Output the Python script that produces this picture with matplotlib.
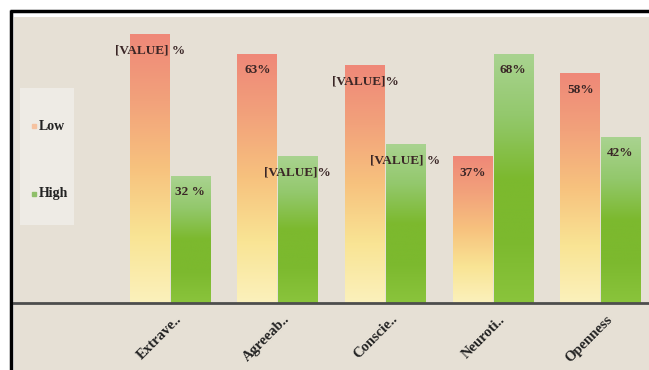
import numpy as np
import matplotlib
matplotlib.use('Agg')
import matplotlib.pyplot as plt
from matplotlib.colors import LinearSegmentedColormap
from matplotlib.patches import Rectangle
from matplotlib.lines import Line2D

# data
traits = ['Extrave..', 'Agreeab..', 'Conscie..', 'Neuroti..', 'Openness']
low = [68, 63, 60, 37, 58]
high = [32, 37, 40, 63, 42]
low_labels = ['[VALUE] %', '63%', '[VALUE]%', '37%', '58%']
high_labels = ['32 %', '[VALUE]%', '[VALUE] %', '68%', '42%']
series = ['Low', 'High']

bg = '#e6e0d5'
low_cmap = LinearSegmentedColormap.from_list(
    'low', ['#fbf1bc', '#f9e494', '#f7c27e', '#f2a27b', '#ef8878'])
high_cmap = LinearSegmentedColormap.from_list(
    'high', ['#8ac43c', '#7cb92e', '#7cb92e', '#93c86c', '#a9d390'])

plt.rcParams['font.family'] = 'Liberation Serif'
fig = plt.figure(figsize=(6.49, 3.70), dpi=100)
fig.patch.set_facecolor('white')

# panel and black frame lines
fig.patches.append(Rectangle((14 / 649, 0), 1, 1 - 17 / 370, transform=fig.transFigure,
                             facecolor=bg, edgecolor='none', zorder=-2))
fig.add_artist(Line2D([10 / 649, 1], [1 - 11 / 370, 1 - 11 / 370], color='black',
                      lw=2.5, solid_capstyle='butt', zorder=3))
fig.add_artist(Line2D([11 / 649, 11 / 649], [0, 1 - 10 / 370], color='black',
                      lw=2.5, solid_capstyle='butt', zorder=3))

ax = fig.add_axes([14 / 649, 1 - 303 / 370, 1 - 14 / 649, 286 / 370])
ax.set_facecolor('none')
ax.set_zorder(1)

x = np.arange(len(traits))
w = 0.368
gap = 0.006
grad = np.linspace(0, 1, 256).reshape(-1, 1)
for i in range(len(traits)):
    ax.imshow(grad, extent=[x[i] - w - gap, x[i] - gap, 0, low[i]], cmap=low_cmap,
              aspect='auto', origin='lower', zorder=2)
    ax.imshow(grad, extent=[x[i] + gap, x[i] + w + gap, 0, high[i]], cmap=high_cmap,
              aspect='auto', origin='lower', zorder=2)
    ax.text(x[i] - w / 2, low[i] - 4, low_labels[i], ha='center', va='center',
            fontsize=9.5, fontweight='bold', color='#3a2626', zorder=3)
    ax.text(x[i] + w / 2, high[i] - 4, high_labels[i], ha='center', va='center',
            fontsize=9.5, fontweight='bold', color='#3a2626', zorder=3)

ax.set_xlim(-1.45, 4.45)
ax.set_ylim(0, 72.4)
ax.set_yticks([])
ax.set_xticks(x + 0.05)
ax.set_xticklabels(traits, rotation=45, ha='right', rotation_mode='anchor',
                   fontsize=10.5, fontweight='bold', color='#222222')
ax.tick_params(axis='x', length=0, pad=7)
for s in ['top', 'right', 'left']:
    ax.spines[s].set_visible(False)
ax.spines['bottom'].set_color('#4d4d4d')
ax.spines['bottom'].set_linewidth(2)

# legend panel
fig.patches.append(Rectangle((20 / 649, 1 - 225 / 370), 54 / 649, 137 / 370,
                             transform=fig.transFigure, facecolor='#eeebe5',
                             edgecolor='none', zorder=-1))
for name, y, c in zip(series, [126, 194], ['#f5c2a0', '#8fbf6a']):
    fig.add_artist(Line2D([33.5 / 649], [1 - y / 370], marker='s', markersize=3,
                          color=c, linestyle='none', zorder=3))
    fig.text(38.5 / 649, 1 - y / 370, name, ha='left', va='center', fontsize=10,
             fontweight='bold', color='#222222', zorder=3)

fig.savefig('out.png', dpi=100, facecolor=fig.get_facecolor())
